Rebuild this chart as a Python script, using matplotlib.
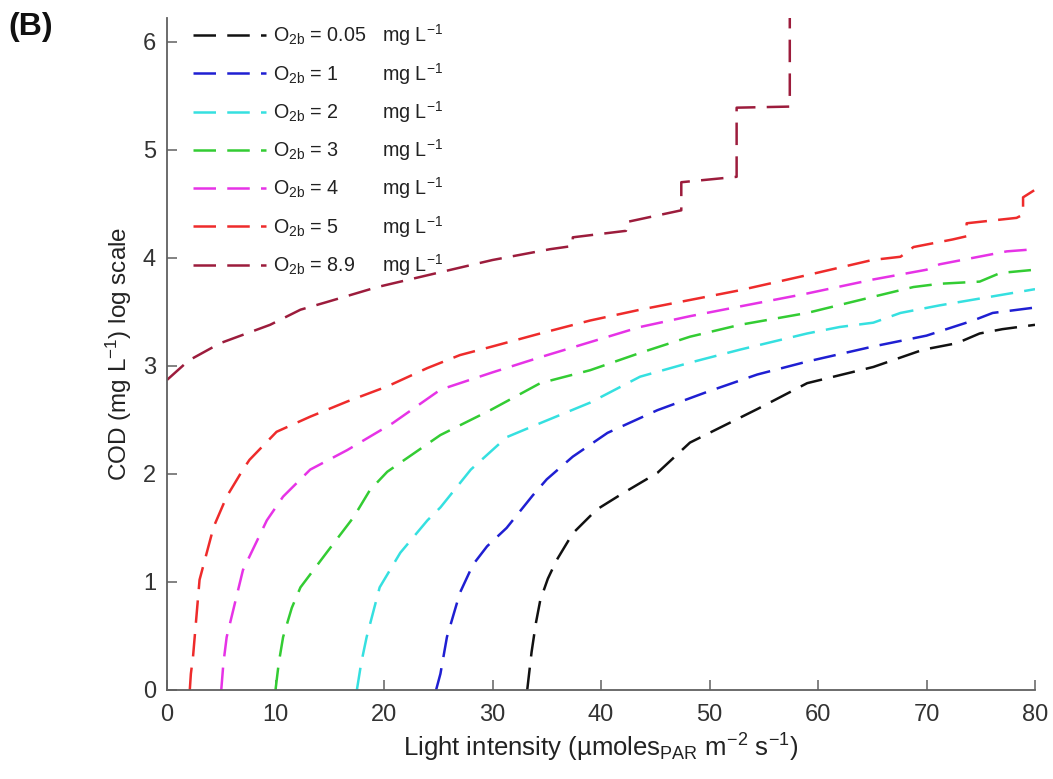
import matplotlib
matplotlib.use("Agg")
import matplotlib.pyplot as plt
from matplotlib.transforms import IdentityTransform

plt.rcParams['font.family'] = ['Liberation Sans', 'DejaVu Sans']
plt.rcParams['mathtext.fontset'] = 'custom'
plt.rcParams['mathtext.rm'] = 'Liberation Sans'
plt.rcParams['mathtext.it'] = 'Liberation Sans:italic'
plt.rcParams['mathtext.bf'] = 'Liberation Sans:bold'

# Simulated COD (log scale) versus light intensity for several bulk O2 levels
o2_levels = ["0.05", "1", "2", "3", "4", "5", "8.9"]

black_x = [33.2, 33.6, 34.0, 34.4, 35.1, 35.9, 37.4, 39.6, 42.0, 45.2, 48.2, 51.2,
           54.4, 59.0, 65.1, 69.7, 72.8, 74.9, 77.0, 80.0]
black_y = [0.0, 0.35, 0.62, 0.83, 1.03, 1.20, 1.45, 1.67, 1.82, 2.01, 2.29, 2.44,
           2.60, 2.84, 2.99, 3.15, 3.21, 3.30, 3.34, 3.38]

blue_x = [24.8, 25.2, 25.8, 27.0, 28.2, 29.5, 31.3, 33.7, 35.0, 37.4, 40.6, 45.2,
          49.8, 54.4, 59.0, 65.1, 70.0, 74.3, 76.1, 80.0]
blue_y = [0.0, 0.15, 0.49, 0.90, 1.16, 1.33, 1.50, 1.80, 1.95, 2.16, 2.38, 2.59,
          2.76, 2.92, 3.04, 3.18, 3.28, 3.42, 3.49, 3.54]

cyan_x = [17.5, 17.9, 18.4, 19.6, 21.5, 24.0, 25.2, 28.0, 31.3, 34.4, 39.0, 43.6,
          48.2, 52.8, 59.0, 62.0, 65.1, 67.6, 71.2, 75.9, 80.0]
cyan_y = [0.0, 0.25, 0.49, 0.95, 1.27, 1.57, 1.69, 2.04, 2.34, 2.47, 2.66, 2.90,
          3.03, 3.15, 3.30, 3.36, 3.40, 3.49, 3.56, 3.64, 3.71]

green_x = [10.0, 10.3, 10.7, 11.5, 12.3, 14.7, 17.2, 18.7, 20.3, 25.2, 29.8, 34.4,
           39.0, 43.6, 48.2, 52.8, 59.0, 65.1, 68.8, 71.2, 74.9, 76.8, 80.0]
green_y = [0.0, 0.25, 0.49, 0.76, 0.95, 1.27, 1.60, 1.85, 2.02, 2.36, 2.59, 2.84,
           2.96, 3.12, 3.27, 3.38, 3.49, 3.64, 3.73, 3.76, 3.78, 3.86, 3.89]

magenta_x = [5.0, 5.2, 5.5, 7.0, 9.2, 10.7, 13.2, 16.6, 20.8, 25.2, 30.0, 34.4,
             39.0, 43.6, 48.2, 52.8, 59.0, 65.1, 70.0, 71.2, 77.4, 80.0]
magenta_y = [0.0, 0.25, 0.49, 1.11, 1.57, 1.79, 2.04, 2.22, 2.47, 2.78, 2.94, 3.08,
             3.22, 3.36, 3.46, 3.55, 3.67, 3.80, 3.89, 3.94, 4.06, 4.08]

red_x = [2.1, 2.2, 2.4, 3.0, 4.3, 5.5, 7.0, 7.6, 10.1, 13.2, 16.6, 20.3, 24.0,
         27.0, 30.0, 34.4, 39.0, 43.6, 48.2, 52.8, 59.0, 65.0, 67.6, 68.8, 72.4,
         73.7, 73.7, 78.3, 78.9, 78.9, 80.0]
red_y = [0.0, 0.15, 0.31, 1.02, 1.51, 1.79, 2.04, 2.13, 2.39, 2.53, 2.67, 2.81, 2.98,
         3.10, 3.18, 3.30, 3.42, 3.52, 3.61, 3.70, 3.84, 3.98, 4.01, 4.10, 4.17,
         4.20, 4.32, 4.37, 4.40, 4.56, 4.63]

darkred_x = [0.0, 2.0, 4.9, 9.5, 12.3, 14.7, 19.4, 24.9, 30.0, 35.3, 37.4, 37.4,
             42.3, 42.3, 47.4, 47.4, 52.5, 52.5, 57.4, 57.4]
darkred_y = [2.87, 3.05, 3.21, 3.38, 3.52, 3.59, 3.73, 3.86, 3.98, 4.08, 4.11, 4.19,
             4.25, 4.33, 4.44, 4.70, 4.75, 5.39, 5.40, 6.22]

series_x = [black_x, blue_x, cyan_x, green_x, magenta_x, red_x, darkred_x]
series_y = [black_y, blue_y, cyan_y, green_y, magenta_y, red_y, darkred_y]
colors = ["#111111", "#1f1fd2", "#35e0e0", "#33cc33", "#e633e6", "#ee2b2b", "#9c1c3c"]

x_ticks = [0, 10, 20, 30, 40, 50, 60, 70, 80]
y_ticks = [0, 1, 2, 3, 4, 5, 6]

W, H = 1053, 779
fig = plt.figure(figsize=(W / 100, H / 100), dpi=100)
ax = fig.add_axes([167 / W, 1 - 690 / H, (1035 - 167) / W, (690 - 18) / H])

lw = 1.8
for xs, ys, c, lev in zip(series_x, series_y, colors, o2_levels):
    ax.plot(xs, ys, color=c, lw=lw, linestyle=(0, (9.0, 4.5)),
            label=r"O$_{\mathrm{2b}}$ = " + lev, solid_capstyle='butt',
            dash_capstyle='butt')

ax.set_xlim(0, 80)
ax.set_ylim(0, 6.22)
ax.set_xticks(x_ticks)
ax.set_yticks(y_ticks)

axis_color = "#606060"
for side in ("top", "right"):
    ax.spines[side].set_visible(False)
for side in ("left", "bottom"):
    ax.spines[side].set_color(axis_color)
    ax.spines[side].set_linewidth(1.3)
ax.tick_params(direction='in', length=7, width=1.1, color=axis_color,
               labelsize=17, labelcolor="#333333")
ax.tick_params(axis='x', pad=10)
ax.tick_params(axis='y', pad=8)

ax.set_xlabel(r"Light intensity (µmoles$_{\mathrm{PAR}}$ m$^{\mathrm{-2}}$ s$^{\mathrm{-1}}$)",
              fontsize=18.5, color="#222222", labelpad=4)
ax.set_ylabel(r"COD (mg L$^{\mathrm{-1}}$) log scale", fontsize=17.5,
              color="#222222", labelpad=6)

leg = ax.legend(loc='upper left', bbox_to_anchor=(0.030, 0.988), frameon=False,
                fontsize=14.2, handlelength=3.7, handletextpad=0.35,
                labelspacing=0.86, borderaxespad=0, borderpad=0)
for t in leg.get_texts():
    t.set_color("#222222")

fig.text(8 / W, 1 - 27 / H, "(B)", fontsize=23, fontweight='bold',
         va='center', ha='left', color="#111111")

# Unit column of the legend, aligned on each entry's baseline
fig.canvas.draw()
for t in leg.get_texts():
    bx, by = t.get_transform().transform(t.get_position())
    fig.text(382, by, r"mg L$^{\mathrm{-1}}$", fontsize=14.2, color="#222222",
             va='baseline', ha='left', transform=IdentityTransform())

fig.savefig("out.png", dpi=100)
